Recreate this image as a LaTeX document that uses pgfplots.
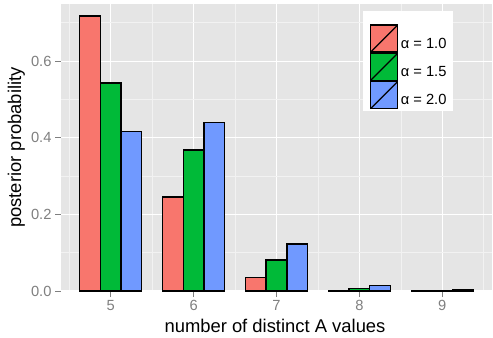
\documentclass[border=0pt]{standalone}
\usepackage{fontspec}
\setmainfont{Liberation Sans}
\usepackage{pgfplots}
\pgfplotsset{compat=1.18}
\definecolor{c1}{HTML}{F8766D}
\definecolor{c2}{HTML}{00BA38}
\definecolor{c3}{HTML}{7099FF}
\definecolor{panel}{HTML}{E5E5E5}
\definecolor{minorg}{HTML}{F2F2F2}
\definecolor{tickg}{HTML}{7F7F7F}
\pgfplotsset{legkey/.style={legend image code/.code={%
  \draw[fill=#1,draw=black,line width=1.3bp] (0bp,-8.2bp) rectangle (27bp,18.8bp);
  \draw[black,line width=1.3bp] (0bp,-8.2bp) -- (27bp,18.8bp);}}}
\begin{document}
\begin{tikzpicture}
\begin{axis}[
 width=431bp, height=287bp, scale only axis,
 xmin=4.4, xmax=9.6, ymin=0, ymax=0.749,
 ybar=0pt, bar width=0.25,
 axis background/.style={fill=panel},
 axis line style={draw=none},
 xtick={5,6,7,8,9},
 ytick={0,0.2,0.4,0.6},
 minor xtick={4.5,5.5,6.5,7.5,8.5,9.5},
 minor ytick={0.1,0.3,0.5,0.7},
 grid=both,
 major grid style={white, line width=1.1bp},
 minor grid style={minorg, line width=0.55bp},
 tick align=outside, tick pos=left,
 major tick length=6bp, minor tick length=0pt,
 tick style={tickg, line width=1bp},
 /pgf/number format/assume math mode=true,
 ticklabel style={font=\fontsize{14.7bp}{16bp}\selectfont, text=tickg},
 yticklabel style={/pgf/number format/.cd, fixed, fixed zerofill, precision=1},
 xlabel={number of distinct A values},
 ylabel={posterior probability},
 label style={font=\fontsize{18.4bp}{20bp}\selectfont, inner sep=0pt},
 xlabel style={at={(axis description cs:0.4965,-0.1429)}, anchor=base},
 ylabel style={at={(axis description cs:-0.0928,0.5)}, anchor=base},
 legend style={at={(0.7162,0.9293)}, anchor=north west, draw=none, fill=none,
   inner sep=0pt, row sep=0pt, nodes={inner sep=0pt},
   font=\fontsize{14.7bp}{16bp}\selectfont},
 legend cell align=left,
 legend style={/tikz/every odd column/.append style={column sep=2.6bp}},
]
\addplot[fill=c1, draw=black, line width=1.3bp, legkey=c1] coordinates {(5,0.718) (6,0.245) (7,0.035) (8,0.001) (9,0.0005)};
\addplot[fill=c2, draw=black, line width=1.3bp, legkey=c2] coordinates {(5,0.543) (6,0.368) (7,0.081) (8,0.006) (9,0.0008)};
\addplot[fill=c3, draw=black, line width=1.3bp, legkey=c3] coordinates {(5,0.417) (6,0.440) (7,0.123) (8,0.014) (9,0.003)};
\legend{α = 1.0, α = 1.5, α = 2.0}
\fill[white] (rel axis cs:0.7007,0.627) rectangle (rel axis cs:0.9095,0.9756);
\coordinate (sw) at (rel axis cs:0,0);
\coordinate (ne) at (rel axis cs:1,1);
\end{axis}
\pgfresetboundingbox
\path ([xshift=-61bp,yshift=-46bp]sw) rectangle ([xshift=1bp,yshift=4bp]ne);
\end{tikzpicture}
\end{document}
